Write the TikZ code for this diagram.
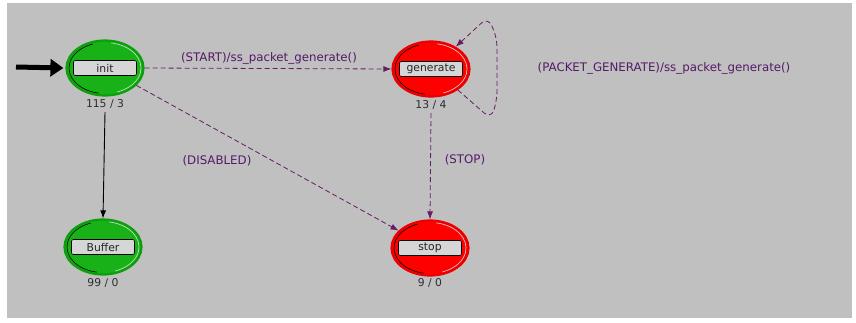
\documentclass[tikz,border=0pt]{standalone}
\usepackage{fontspec}
\setmainfont{DejaVu Sans}
\usetikzlibrary{shapes.geometric,arrows.meta}
\definecolor{bg}{RGB}{192,192,192}
\definecolor{grn}{RGB}{24,178,24}
\definecolor{grnd}{RGB}{10,160,10}
\definecolor{rd}{RGB}{255,0,0}
\definecolor{rdd}{RGB}{235,0,0}
\definecolor{trc}{RGB}{100,30,100}
\definecolor{trt}{RGB}{85,25,105}
\definecolor{lblfill}{RGB}{214,214,214}
\definecolor{cnt}{RGB}{45,45,55}
\tikzset{
  statebase/.style={ellipse, minimum width=77pt, minimum height=55pt, inner sep=0pt, line width=2.2pt},
  stgreen/.style={statebase, fill=grn, draw=grnd},
  stred/.style={statebase, fill=rd, draw=rdd},
  lblbox/.style={rectangle, rounded corners=2pt, draw=black, line width=0.6pt, fill=lblfill, minimum width=63pt, minimum height=15pt, inner sep=0pt, font=\fontsize{10.8}{12}\selectfont, text=black!85},
  cntlbl/.style={font=\fontsize{10.8}{12}\selectfont, text=cnt},
  trans/.style={draw=trc, dashed, dash pattern=on 5pt off 3pt, line width=0.8pt, -{Latex[length=8pt,width=6pt]}},
  translbl/.style={font=\fontsize{11.8}{14}\selectfont, text=trt},
  solidtr/.style={draw=black, line width=0.9pt, -{Latex[length=8pt,width=6pt]}},
}
\begin{document}
\begin{tikzpicture}[x=1pt,y=-1pt]
\useasboundingbox (0,0) rectangle (856,322);
\fill[white] (0,0) rectangle (856,322);
\fill[bg] (7,3) rectangle (852,318);

% states
\node[stgreen] (init) at (105,68) {};
\node[stred] (gen) at (431,69) {};
\node[stgreen] (buf) at (103,247) {};
\node[stred] (stop) at (430,248) {};

% 3D arcs
\foreach \c in {init,gen,buf,stop}{
  \draw[black, line width=0.6pt] (\c) ++(100:36 and 25.5) arc[start angle=100, end angle=250, x radius=36, y radius=25.5];
  \draw[white!70!gray, line width=0.6pt] (\c) ++(-80:36 and 25.5) arc[start angle=-80, end angle=70, x radius=36, y radius=25.5];
}

% label boxes
\node[lblbox] (initl) at (init) {init};
\node[lblbox] (genl) at (gen) {generate};
\node[lblbox] (bufl) at (buf) {Buffer};
\node[lblbox] (stopl) at (stop) {stop};

% counts
\node[cntlbl] (initc) at (105,104) {115 / 3};
\node[cntlbl] (genc) at (431,105) {13 / 4};
\node[cntlbl] (bufc) at (103,283) {99 / 0};
\node[cntlbl] (stopc) at (430,283) {9 / 0};

% initial arrow
\coordinate (start) at (16,67);
\draw[line width=5pt, -{Triangle[length=13pt,width=17pt]}] (start) -- ([xshift=-2pt]init.west);

% transitions
\draw[solidtr] (initc.south) -- (buf.north);
\draw[trans] (init.east) -- (gen.west);
\draw[trans] (init) -- (stop);
\draw[trans] (genc.south) -- (stop.north);
\draw[trans, rounded corners=9pt] (gen.-38) -- (491,119) -- (497,100) -- (497,38) -- (488,17) -- (gen.42);

% transition labels
\node[translbl] (l1) at (269,58) {(START)/ss\_packet\_generate()};
\node[translbl] (l2) at (217,161) {(DISABLED)};
\node[translbl] (l3) at (465,160) {(STOP)};
\node[translbl] (l4) at (664,68) {(PACKET\_GENERATE)/ss\_packet\_generate()};
\end{tikzpicture}
\end{document}
